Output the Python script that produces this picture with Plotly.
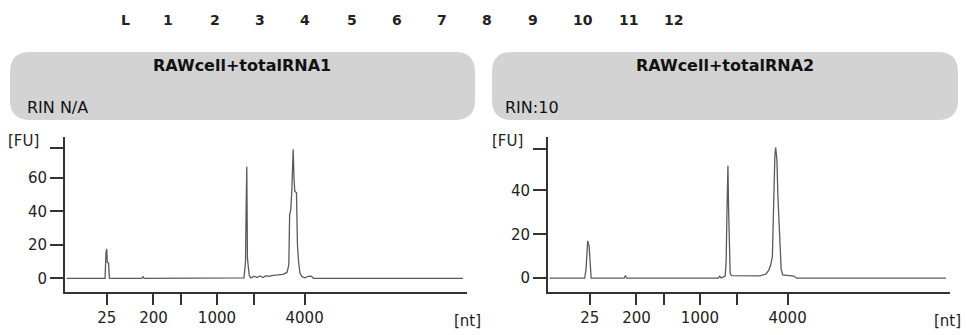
import plotly.graph_objects as go

# ---------------- data ----------------
lane_labels = ["L", "1", "2", "3", "4", "5", "6", "7", "8", "9", "10", "11", "12"]
sample_titles = ["RAWcell+totalRNA1", "RAWcell+totalRNA2"]
rin_labels = ["RIN N/A", "RIN:10"]

# ladder migration times (s) and their size labels
ladder_time = [24.2, 30.0, 33.4, 37.9, 42.5, 48.8]
ladder_text = ["25", "200", "", "1000", "", "4000"]

# sample 1 electropherogram: time (s), fluorescence (FU)
s1_time = [19.2, 23.98, 24.10, 24.19, 24.26, 24.42, 24.53, 28.55, 28.70, 28.85,
           41.26, 41.45, 41.54, 41.61, 41.69, 41.80, 41.92, 42.13, 42.51, 42.88,
           43.25, 43.63, 44.0, 44.37, 44.87, 45.49, 46.11, 46.61, 46.84, 46.94,
           47.08, 47.21, 47.30, 47.38, 47.48, 47.58, 47.79, 47.91, 48.05, 48.23,
           48.48, 48.85, 49.22, 49.60, 49.91, 68.5]
s1_fu = [0, 0, 15, 17.5, 9.5, 9, 0, 0, 1, 0,
         0.3, 10, 45, 66.5, 12, 6, 1.5, 0.3, 1.3, 0.4,
         1.4, 0.5, 1.6, 1.2, 1.8, 2.0, 2.4, 3.5, 8, 38,
         41, 52, 70, 77, 60, 52, 51, 20, 10, 3,
         1, 0.3, 1.2, 1.3, 0, 0]

# sample 2 electropherogram
s2_time = [19.2, 23.56, 23.73, 23.81, 23.94, 24.12, 24.25, 24.37, 28.48, 28.63,
           28.79, 40.17, 40.36, 40.54, 41.04, 41.16, 41.26, 41.38, 41.46, 41.55,
           41.66, 41.85, 43.47, 45.33, 46.08, 46.45, 46.70, 46.91, 47.01, 47.11,
           47.22, 47.32, 47.47, 47.59, 47.72, 47.86, 48.0, 48.19, 48.56, 49.06,
           49.56, 49.93, 68.5]
s2_fu = [0, 0, 4, 8, 17, 14.5, 6, 0, 0, 1.2,
         0, 0, 0.9, 0.1, 1, 8, 30, 51.2, 32, 8,
         2, 1.2, 1.0, 1.1, 1.8, 3.5, 6, 10, 25, 47,
         56, 59.5, 54, 38, 24, 10, 4, 1.5, 1.3, 1.2,
         1.0, 0, 0]

y1_ticks = [0, 20, 40, 60, 77.5]
y1_text = ["0", "20", "40", "60", ""]
y2_ticks = [0, 20, 40, 59]
y2_text = ["0", "20", "40", ""]

# ---------------- layout helpers ----------------
W, H = 966, 335


def px(x):
    return x / W


def py(y):
    return 1 - y / H


def rounded_box(x0, y0, x1, y1, r):
    pts = [
        f"M {px(x0 + r)},{py(y0)}",
        f"L {px(x1 - r)},{py(y0)}",
        f"Q {px(x1)},{py(y0)} {px(x1)},{py(y0 + r)}",
        f"L {px(x1)},{py(y1 - r)}",
        f"Q {px(x1)},{py(y1)} {px(x1 - r)},{py(y1)}",
        f"L {px(x0 + r)},{py(y1)}",
        f"Q {px(x0)},{py(y1)} {px(x0)},{py(y1 - r)}",
        f"L {px(x0)},{py(y0 + r)}",
        f"Q {px(x0)},{py(y0)} {px(x0 + r)},{py(y0)}",
        "Z",
    ]
    return " ".join(pts)


FONT = "DejaVu Sans"
AX = "#333333"
TXT = "#222222"

fig = go.Figure()
fig.add_trace(go.Scatter(x=s1_time, y=s1_fu, mode="lines",
                         line=dict(color="#5a5a5a", width=1.3),
                         xaxis="x", yaxis="y", showlegend=False, hoverinfo="skip"))
fig.add_trace(go.Scatter(x=s2_time, y=s2_fu, mode="lines",
                         line=dict(color="#5a5a5a", width=1.3),
                         xaxis="x2", yaxis="y2", showlegend=False, hoverinfo="skip"))

ydom = [py(292), py(137)]
common_x = dict(range=[19, 69], showgrid=False, zeroline=False, showline=True,
                linecolor=AX, linewidth=2, ticks="outside", ticklen=11,
                tickwidth=2, tickcolor=AX, tickmode="array",
                tickvals=ladder_time, ticktext=ladder_text,
                tickfont=dict(family=FONT, size=15, color=TXT), fixedrange=True)
common_y = dict(showgrid=False, zeroline=False, showline=True, linecolor=AX,
                linewidth=2, ticks="outside", ticklen=13, tickwidth=2,
                tickcolor=AX, tickmode="array", domain=ydom,
                tickfont=dict(family=FONT, size=15, color=TXT), fixedrange=True)

fig.update_layout(
    width=W, height=H,
    margin=dict(l=0, r=0, t=0, b=0),
    paper_bgcolor="white", plot_bgcolor="white",
    xaxis=dict(domain=[px(65), px(467)], anchor="y", **common_x),
    yaxis=dict(range=[-8.17, 84.3], anchor="x", tickvals=y1_ticks,
               ticktext=y1_text, **common_y),
    xaxis2=dict(domain=[px(548), px(950)], anchor="y2", **common_x),
    yaxis2=dict(range=[-6.28, 64.3], anchor="x2", tickvals=y2_ticks,
                ticktext=y2_text, **common_y),
)

shapes = []
for (x0, x1) in [(10, 475), (492, 958)]:
    shapes.append(dict(type="path", xref="paper", yref="paper",
                       path=rounded_box(x0, 52, x1, 120, 20),
                       fillcolor="#d3d3d3", line=dict(width=0), layer="below"))
fig.update_layout(shapes=shapes)

ann = []
lane_x = [125, 168, 215, 260, 305, 352, 397, 442, 487, 533, 583, 628, 673]
for lx, lab in zip(lane_x, lane_labels):
    ann.append(dict(x=px(lx), y=py(20), xref="paper", yref="paper", text=f"<b>{lab}</b>",
                    showarrow=False, xanchor="center", yanchor="middle",
                    font=dict(family=FONT, size=14, color="#222")))
for cx, t in zip([241.5, 724.5], sample_titles):
    ann.append(dict(x=px(cx), y=py(65), xref="paper", yref="paper", text=f"<b>{t}</b>",
                    showarrow=False, xanchor="center", yanchor="middle",
                    font=dict(family=FONT, size=16, color="#111")))
for lx, t in zip([25, 503], rin_labels):
    ann.append(dict(x=px(lx), y=py(107), xref="paper", yref="paper", text=t,
                    showarrow=False, xanchor="left", yanchor="middle",
                    font=dict(family=FONT, size=16, color="#111")))
for lx in [6, 490]:
    ann.append(dict(x=px(lx), y=py(141), xref="paper", yref="paper", text="[FU]",
                    showarrow=False, xanchor="left", yanchor="middle",
                    font=dict(family=FONT, size=15, color=TXT)))
for cx in [467, 947]:
    ann.append(dict(x=px(cx), y=py(321), xref="paper", yref="paper", text="[nt]",
                    showarrow=False, xanchor="center", yanchor="middle",
                    font=dict(family=FONT, size=15, color=TXT)))
fig.update_layout(annotations=ann)

fig.write_html("out.html", config={"displayModeBar": False},
               post_script="document.body.style.margin='0';document.body.style.overflow='hidden';")
